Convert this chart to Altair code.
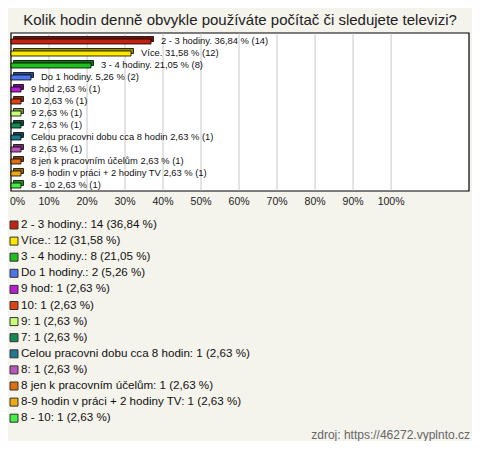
import altair as alt
import pandas as pd

# ---- data ----
categories = [
    "2 - 3 hodiny.", "Více.", "3 - 4 hodiny.", "Do 1 hodiny.", "9 hod", "10", "9", "7",
    "Celou pracovni dobu cca 8 hodin", "8", "8 jen k pracovním účelům",
    "8-9 hodin v práci + 2 hodiny TV", "8 - 10",
]
counts = [14, 12, 8, 2, 1, 1, 1, 1, 1, 1, 1, 1, 1]
percents = [36.84, 31.58, 21.05, 5.26, 2.63, 2.63, 2.63, 2.63, 2.63, 2.63, 2.63, 2.63, 2.63]
colors = [
    "#c42211", "#ffe800", "#1fbf1f", "#4d76e8", "#b51fcf", "#dd4411", "#c8ff77",
    "#158a55", "#1f7a90", "#bb55bb", "#e07010", "#eeaa11", "#44ee44",
]
tick_values = [0, 10, 20, 30, 40, 50, 60, 70, 80, 90, 100]
title_text = "Kolik hodin denně obvykle používáte počítač či sledujete televizi?"
source_text = "zdroj: https://46272.vyplnto.cz"


def fmt(p):
    return f"{p:.2f}".replace(".", ",")


def darken(hex_color, f=0.6):
    h = hex_color.lstrip("#")
    r, g, b = (int(h[i:i + 2], 16) for i in (0, 2, 4))
    return "#{:02x}{:02x}{:02x}".format(int(r * f), int(g * f), int(b * f))


df = pd.DataFrame({
    "cat": categories,
    "n": counts,
    "pct": percents,
    "label": [f"{c} {fmt(p)} % ({n})" for c, p, n in zip(categories, percents, counts)],
    "legend": [f"{c}: {n} ({fmt(p)} %)" for c, p, n in zip(categories, percents, counts)],
    "dark": [darken(c) for c in colors],
})
ticks = pd.DataFrame({"v": tick_values, "t": [f"{v}%" for v in tick_values]})

FONT = "Liberation Sans"
xs = alt.Scale(domain=[0, 120.5], range=[3, 461], nice=False, zero=False)
ys = alt.Scale(domain=categories, range=[5.5, 161.5], paddingInner=0, paddingOuter=0)
ls = alt.Scale(domain=list(df["legend"]), range=[186.95, 396.25], paddingInner=0, paddingOuter=0)
cs = alt.Scale(domain=categories, range=colors)

frame = alt.Chart(pd.DataFrame({"a": [0]})).mark_rect(
    fill="white", stroke="#000", strokeWidth=1.2
).encode(x=alt.value(3), x2=alt.value(461), y=alt.value(3), y2=alt.value(161))

grid = alt.Chart(ticks[ticks.v > 0]).mark_rule(color="#c8c8c8", strokeWidth=1).encode(
    x=alt.X("v:Q", scale=xs, axis=None), y=alt.value(3.5), y2=alt.value(160.5)
)

back = alt.Chart(df).mark_bar(height=5, xOffset=2.5, yOffset=-2.5, stroke="#000",
                              strokeWidth=0.8).encode(
    x=alt.X("pct:Q", scale=xs, axis=None),
    y=alt.Y("cat:N", scale=ys, sort=None, axis=None),
    color=alt.Color("dark:N", scale=None),
)
front = alt.Chart(df).mark_bar(height=5, stroke="#000", strokeWidth=0.8).encode(
    x=alt.X("pct:Q", scale=xs, axis=None),
    y=alt.Y("cat:N", scale=ys, sort=None, axis=None),
    color=alt.Color("cat:N", scale=cs, legend=None),
)
bar_labels = alt.Chart(df).mark_text(
    align="left", baseline="middle", dx=10, dy=-1, fontSize=9.4, font=FONT, color="#111"
).encode(
    x=alt.X("pct:Q", scale=xs, axis=None),
    y=alt.Y("cat:N", scale=ys, sort=None, axis=None),
    text="label:N",
)

tick0 = alt.Chart(ticks[ticks.v == 0]).mark_text(
    align="left", baseline="middle", dx=-1, fontSize=10.5, font=FONT, color="#222"
).encode(x=alt.X("v:Q", scale=xs, axis=None), y=alt.value(172), text="t:N")
tickn = alt.Chart(ticks[ticks.v > 0]).mark_text(
    align="center", baseline="middle", fontSize=10.5, font=FONT, color="#222"
).encode(x=alt.X("v:Q", scale=xs, axis=None), y=alt.value(172), text="t:N")

leg_sym = alt.Chart(df).mark_square(size=64, stroke="#333", strokeWidth=1, opacity=1).encode(
    x=alt.value(6),
    y=alt.Y("legend:N", scale=ls, sort=None, axis=None),
    color=alt.Color("cat:N", scale=cs, legend=None),
)
leg_txt = alt.Chart(df).mark_text(
    align="left", baseline="middle", fontSize=11.6, font=FONT, color="#111"
).encode(
    x=alt.value(13),
    y=alt.Y("legend:N", scale=ls, sort=None, axis=None),
    text="legend:N",
)

source = alt.Chart(pd.DataFrame({"s": [source_text]})).mark_text(
    align="right", baseline="middle", fontSize=12, font=FONT, color="#666"
).encode(x=alt.value(462), y=alt.value(405), text="s:N")

chart = alt.layer(
    frame, grid, back, front, bar_labels, tick0, tickn, leg_sym, leg_txt, source
).resolve_scale(y="independent").properties(
    width=464,
    height=411,
    padding={"left": 0, "top": 22, "right": 0, "bottom": 0},
    autosize="none",
    background="#f4f3ec",
    title=alt.TitleParams(
        title_text, fontSize=15, font=FONT, fontWeight="normal", color="#222",
        anchor="middle", baseline="alphabetic", offset=-10,
    ),
).configure_view(stroke=None)

chart.save("out.html", embed_options={"renderer": "svg", "actions": False})
